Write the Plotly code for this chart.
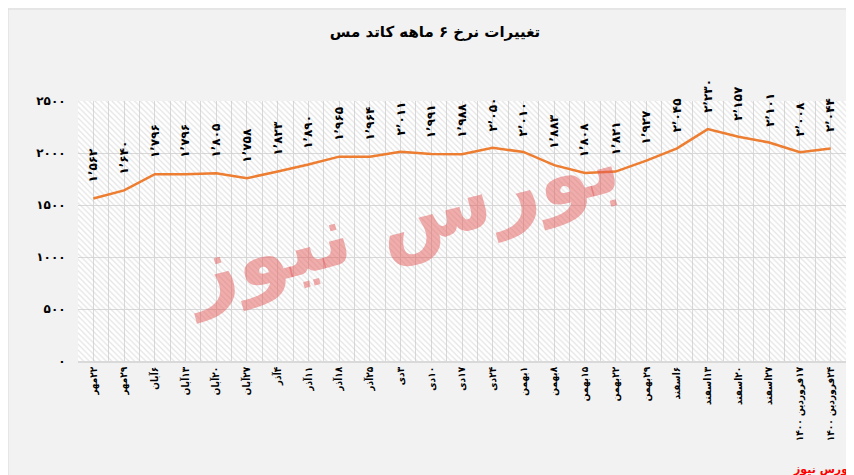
import plotly.graph_objects as go

categories = ["۲۲مهر", "۲۹مهر", "۶آبان", "۱۳آبان", "۲۰آبان", "۲۷آبان", "۴آذر", "۱۱آذر", "۱۸آذر",
              "۲۵آذر", "۳دی", "۱۰دی", "۱۷دی", "۲۴دی", "۱بهمن", "۸بهمن", "۱۵بهمن", "۲۲بهمن",
              "۲۹بهمن", "۶اسفند", "۱۳اسفند", "۲۰اسفند", "۲۷اسفند", "۱۷فروردین ۱۴۰۰", "۲۴فروردین ۱۴۰۰"]
values = [1562, 1640, 1796, 1796, 1805, 1758, 1823, 1890, 1965, 1964, 2011, 1991, 1988, 2050,
          2010, 1883, 1808, 1821, 1927, 2045, 2230, 2157, 2101, 2008, 2044]
y_ticks = [0, 500, 1000, 1500, 2000, 2500]
title_text = "تغییرات نرخ ۶ ماهه کاتد مس"
source_text = "بورس نیوز"

FA = str.maketrans("0123456789,", "۰۱۲۳۴۵۶۷۸۹٬")
RLE, PDF = "\u202b", "\u202c"


def fa(n, sep=True):
    return (f"{n:,}" if sep else str(n)).translate(FA)


def rtl(s):
    return RLE + s + PDF


FONT = "DejaVu Sans"
FONT_C = "DejaVu Sans Condensed, DejaVu Sans"
xs = list(range(len(categories)))
x_lo, x_hi = -0.5, len(categories) - 0.5
y_lo, y_hi = y_ticks[0], y_ticks[-1]

fig = go.Figure()
# hatched plot-area background
fig.add_trace(go.Scatter(x=[x_lo, x_hi, x_hi, x_lo, x_lo], y=[y_lo, y_lo, y_hi, y_hi, y_lo],
                         mode="lines", line=dict(width=0), fill="toself",
                         fillcolor="rgba(0,0,0,0)",
                         fillpattern=dict(shape="\\", fgcolor="#c8c8c8", bgcolor="rgba(0,0,0,0)",
                                          size=4, solidity=0.3),
                         hoverinfo="skip"))
fig.add_trace(go.Scatter(x=xs, y=values, mode="lines",
                         line=dict(color="#ED7D31", width=2.5), hoverinfo="skip"))

annotations = []
for x, v in zip(xs, values):
    annotations.append(dict(x=x, y=v, xref="x", yref="y", text=fa(v), showarrow=False,
                            textangle=-90, yanchor="bottom", xanchor="center", yshift=14,
                            font=dict(family=FONT, size=12, color="#000000", weight="bold")))

# watermark
annotations.append(dict(x=0.42, y=0.55, xref="paper", yref="paper", text=source_text,
                        showarrow=False, textangle=-15,
                        font=dict(family=FONT, size=84, color="rgba(228,90,90,0.5)", weight="bold")))
# source label bottom-right
annotations.append(dict(x=(846 - 70) / 768, y=-(470 - 353) / 260, xref="paper", yref="paper",
                        xanchor="right", yanchor="bottom", text=source_text, showarrow=False,
                        font=dict(family=FONT, size=11, color="#ff0000", weight="bold")))

fig.update_layout(
    width=854, height=475,
    margin=dict(l=70, r=16, t=93, b=122),
    paper_bgcolor="#f2f2f2",
    plot_bgcolor="#ffffff",
    showlegend=False,
    title=dict(text=title_text, x=0.5, xref="container", y=0.95, yref="container",
               xanchor="center", yanchor="middle",
               font=dict(family=FONT, size=15, color="#000000", weight="bold")),
    xaxis=dict(range=[x_lo, x_hi], tickmode="array", tickvals=xs,
               ticktext=[rtl(c) for c in categories], tickangle=-90, showgrid=True, gridcolor="#d9d9d9",
               gridwidth=1, zeroline=False, showline=True, linecolor="#d9d9d9", linewidth=1.5,
               ticks="", fixedrange=True,
               minor=dict(tickvals=[i - 0.5 for i in range(len(categories) + 1)],
                          showgrid=True, gridcolor="#d9d9d9", gridwidth=1, ticks=""),
               tickfont=dict(family=FONT_C, size=10, color="#000000", weight="bold")),
    yaxis=dict(range=[y_lo, y_hi], tickmode="array", tickvals=y_ticks,
               ticktext=[fa(t, sep=False) for t in y_ticks], showgrid=True,
               gridcolor="#d9d9d9", gridwidth=1, zeroline=False, showline=False,
               ticks="outside", ticklen=9, tickcolor="rgba(0,0,0,0)",
               tickfont=dict(family=FONT, size=12, color="#000000", weight="bold")),
    annotations=annotations,
    shapes=[dict(type="rect", xref="paper", yref="paper", x0=-70 / 768, x1=1 + 15 / 768,
                 y0=-122 / 260, y1=1 + 92 / 260, line=dict(color="#d9d9d9", width=1),
                 fillcolor="rgba(0,0,0,0)", layer="below")],
)

fig.write_html("out.html")
